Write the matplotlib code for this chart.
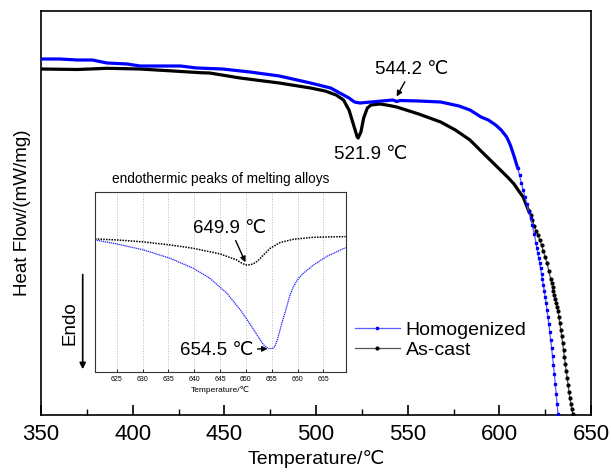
import numpy as np
import matplotlib
matplotlib.use("Agg")
import matplotlib.pyplot as plt

plt.rcParams['font.family'] = ['Liberation Sans', 'DejaVu Sans']

# ---------------- main DSC curves (arbitrary heat-flow units) ----------------
homog_T = [350, 360, 365, 370, 378, 386, 397, 404, 426, 435, 449, 464, 480, 497, 508,
           515, 518, 521, 524, 530, 536, 542, 544, 546, 556, 568, 578, 584, 590, 594,
           598, 601, 604, 606, 608, 609, 610,
           611, 612, 613, 614, 615, 616, 617, 618, 619, 620, 620.5, 621, 621.5, 622,
           622.5, 623, 623.5, 624, 624.5, 625, 625.5, 626, 626.5, 627, 627.5, 628,
           628.5, 629, 629.5, 630, 630.5, 631, 631.5, 632, 632.5]
homog_HF = [3.56, 3.56, 3.555, 3.55, 3.55, 3.52, 3.51, 3.49, 3.49, 3.47, 3.46, 3.43, 3.39,
            3.32, 3.27, 3.20, 3.17, 3.13, 3.12, 3.13, 3.14, 3.15, 3.135, 3.145, 3.14, 3.13,
            3.09, 3.05, 2.98, 2.95, 2.90, 2.85, 2.78, 2.70, 2.59, 2.53, 2.47,
            2.40, 2.32, 2.25, 2.18, 2.11, 2.03, 1.97, 1.90, 1.81, 1.72, 1.67, 1.62, 1.57,
            1.52, 1.47, 1.41, 1.36, 1.30, 1.24, 1.18, 1.12, 1.05, 0.98, 0.91, 0.83, 0.75,
            0.67, 0.59, 0.50, 0.41, 0.31, 0.21, 0.11, 0.01, -0.10]

cast_T = [350, 370, 386, 404, 422, 437, 442, 458.6, 480, 497, 505, 511, 515, 518, 520,
          522.5, 523, 524.5, 526, 528, 530, 535, 540, 544, 556, 568, 576, 584, 590, 595,
          600, 605, 608, 611, 613, 616,
          617, 618, 619, 620, 621, 622, 623, 624, 625, 626, 627, 628, 628.5, 629, 629.5,
          630, 630.5, 631, 631.5, 632, 632.5, 633, 633.5, 634, 634.5, 635, 635.5, 636,
          636.5, 637, 637.5, 638, 638.5, 639, 639.5, 640, 640.5]
cast_HF = [3.46, 3.455, 3.467, 3.46, 3.44, 3.423, 3.42, 3.37, 3.32, 3.27, 3.24, 3.20, 3.15,
           3.05, 2.93, 2.78, 2.77, 2.83, 2.97, 3.07, 3.10, 3.11, 3.095, 3.08, 3.01, 2.93,
           2.85, 2.75, 2.64, 2.55, 2.46, 2.37, 2.31, 2.23, 2.18, 2.04,
           2.00, 1.95, 1.89, 1.84, 1.80, 1.75, 1.70, 1.64, 1.58, 1.52, 1.44, 1.36, 1.32,
           1.28, 1.24, 1.20, 1.16, 1.12, 1.08, 1.04, 0.98, 0.92, 0.85, 0.79, 0.72, 0.65,
           0.58, 0.51, 0.44, 0.37, 0.30, 0.23, 0.17, 0.11, 0.06, 0.01, -0.05]

# ---------------- inset: melting peaks ----------------
in_cast_T = [620.8, 625, 630.2, 635.3, 639.8, 645, 648.2, 649.0, 649.9, 650.8, 651.5,
             652.1, 652.8, 653.4, 654.7, 656.6, 659.2, 663.1, 669.3]
in_cast_HF = [4.00, 3.97, 3.91, 3.82, 3.72, 3.55, 3.37, 3.29, 3.22, 3.22, 3.26,
              3.32, 3.42, 3.52, 3.72, 3.89, 3.99, 4.05, 4.07]
in_homog_T = [620.8, 625, 630.2, 635.3, 639.8, 643, 646.3, 648.9, 650.2, 651.5, 652.5,
              653.4, 654.0, 654.5, 655.2, 655.6, 656.1, 656.6, 657.2, 657.9, 658.5,
              659.2, 660.1, 661.1, 663.1, 665.6, 669.3]
in_homog_HF = [3.97, 3.85, 3.67, 3.42, 3.12, 2.82, 2.37, 1.87, 1.58, 1.27, 1.03,
               0.82, 0.74, 0.70, 0.71, 0.77, 0.98, 1.27, 1.60, 1.97, 2.30,
               2.57, 2.80, 2.97, 3.22, 3.47, 3.74]

main_ticks = [350, 400, 450, 500, 550, 600, 650]
inset_ticks = [625, 630, 635, 640, 645, 650, 655, 660, 665]
series_labels = ["Homogenized", "As-cast"]

W, H = 611, 473
fig = plt.figure(figsize=(W / 100, H / 100), dpi=100)
ax = fig.add_axes([41 / W, 1 - 415 / H, 550 / W, 404 / H])

hT, hF = np.array(homog_T), np.array(homog_HF)
cT, cF = np.array(cast_T), np.array(cast_HF)
hs = hT <= 610
cs = cT <= 616

ax.plot(hT[hs], hF[hs], color='#0000ff', lw=2.3, solid_capstyle='round', zorder=3)
ax.plot(cT[cs], cF[cs], color='black', lw=2.3, solid_capstyle='round', zorder=2)
h_idx = np.where(hT >= 610)[0]
c_idx = np.where(cT >= 616)[0]
l1, = ax.plot(hT[h_idx], hF[h_idx], color='#5a5aff', lw=0.9, marker='s', ms=2.0,
              mfc='#0000ff', mec='#0000ff', label=series_labels[0], zorder=3)
l2, = ax.plot(cT[c_idx], cF[c_idx], color='#555555', lw=0.9, marker='o', ms=2.0,
              mfc='black', mec='black', label=series_labels[1], zorder=2)

ax.set_xlim(350, 650)
ax.set_ylim(0, 4.04)
ax.set_xticks(main_ticks)
ax.set_xticks(np.arange(375, 650, 50), minor=True)
ax.set_yticks([])
ax.tick_params(axis='x', which='major', direction='in', length=7, width=1.2,
               labelsize=16, pad=6.5)
ax.tick_params(axis='x', which='minor', direction='in', length=4, width=1.0)
for s in ax.spines.values():
    s.set_linewidth(1.2)
ax.set_xlabel("Temperature/℃", fontsize=14, labelpad=3.5)
ax.set_ylabel("Heat Flow/(mW/mg)", fontsize=13.5, labelpad=7)

# annotations on main plot
i544 = int(np.argmin(np.abs(hT - 544)))
ax.annotate("544.2 ℃", xy=(hT[i544], hF[i544] + 0.05), xycoords='data',
            xytext=(411.7 / W, 1 - 69.3 / H), textcoords='figure fraction',
            ha='center', va='center', fontsize=13.5,
            arrowprops=dict(arrowstyle='-|>', color='black', lw=1.0,
                            mutation_scale=8, shrinkA=1, shrinkB=0))
fig.text(371 / W, 1 - 154 / H, "521.9 ℃", ha='center', va='center', fontsize=13.5)

ax.legend(handles=[l1, l2], loc='upper left', bbox_to_anchor=(355 / W, 1 - 321 / H),
          bbox_transform=fig.transFigure, frameon=False, fontsize=14,
          borderaxespad=0, borderpad=0, handlelength=2.3, handletextpad=0.3,
          labelspacing=0.12, numpoints=1)

# ---------------- inset ----------------
axi = fig.add_axes([95 / W, 1 - 372 / H, 250.7 / W, 180.3 / H])
axi.plot(in_cast_T, in_cast_HF, color='black', lw=1.1, ls=(0, (1, 0.8)))
axi.plot(in_homog_T, in_homog_HF, color='#2020ff', lw=0.9, ls=(0, (1, 0.6)))
axi.set_xlim(620.8, 669.3)
axi.set_ylim(0, 5.42)
axi.set_xticks(inset_ticks)
axi.set_yticks([])
axi.grid(axis='x', color='#bbbbbb', ls=':', lw=0.7)
axi.tick_params(axis='x', direction='in', length=2, width=0.6, labelsize=5, pad=3)
for s in axi.spines.values():
    s.set_linewidth(0.8)
    s.set_color('#333333')
axi.set_xlabel("Temperature/℃", fontsize=6, labelpad=2)
axi.set_title("endothermic peaks of melting alloys", fontsize=9.8, pad=6)

ic = int(np.argmin(in_cast_HF))
axi.annotate("649.9 ℃", xy=(649.9, in_cast_HF[ic] + 0.08), xycoords='data',
             xytext=(230 / W, 1 - 228 / H), textcoords='figure fraction',
             ha='center', va='center', fontsize=13.5,
             arrowprops=dict(arrowstyle='-|>', color='black', lw=1.0,
                             mutation_scale=8, shrinkA=1, shrinkB=0))
ih = int(np.argmin(in_homog_HF))
axi.annotate("654.5 ℃", xy=(in_homog_T[ih] - 0.3, in_homog_HF[ih]), xycoords='data',
             xytext=(216.7 / W, 1 - 350 / H), textcoords='figure fraction',
             ha='center', va='center', fontsize=13.5,
             arrowprops=dict(arrowstyle='-|>', color='black', lw=1.0,
                             mutation_scale=8, shrinkA=1, shrinkB=0))

# Endo arrow
fig.patches.append(matplotlib.patches.FancyArrowPatch(
    (82.7 / W, 1 - 271.7 / H), (82.7 / W, 1 - 372 / H), transform=fig.transFigure,
    arrowstyle='-|>', mutation_scale=9, lw=1.2, color='black'))
fig.text(70 / W, 1 - 323 / H, "Endo", rotation=90, ha='center', va='center', fontsize=13.5)

fig.savefig("out.png", dpi=100)
